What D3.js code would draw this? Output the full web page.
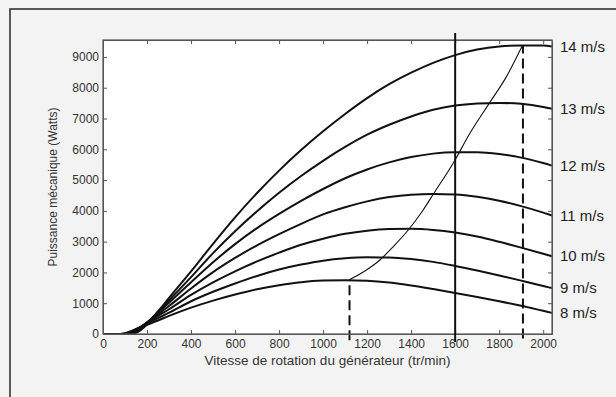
<!DOCTYPE html>
<html>
<head>
<meta charset="utf-8">
<script src="https://cdn.jsdelivr.net/npm/d3@7"></script>
<style>
  body { margin: 0; background: #f3f3f3; }
  svg { display: block; font-family: "Liberation Sans", Arial, sans-serif; }
</style>
</head>
<body>
<div id="chart"></div>
<script>
// generator speed (tr/min) where each power curve is sampled
const rpm = [0, 80, 100, 120, 150, 200, 250, 300, 400, 500, 600, 700, 800, 900, 1000,
  1100, 1200, 1300, 1400, 1500, 1600, 1700, 1800, 1900, 2000, 2040];

// mechanical power (W) for each wind speed
const p8  = [0, 4, 26, 72, 161, 298, 439, 588, 858, 1084, 1282, 1453, 1584, 1683, 1736,
  1750, 1732, 1673, 1579, 1462, 1335, 1203, 1065, 917, 752, 686];
const p9  = [0, 0, 15, 55, 152, 339, 516, 693, 1064, 1372, 1642, 1886, 2093, 2255, 2383,
  2458, 2490, 2487, 2437, 2343, 2212, 2063, 1901, 1734, 1562, 1490];
const p10 = [0, 0, 7, 41, 144, 369, 588, 804, 1271, 1677, 2037, 2358, 2642, 2898, 3093,
  3254, 3356, 3408, 3418, 3382, 3298, 3165, 2994, 2806, 2608, 2526];
const p11 = [0, 0, 0, 23, 114, 378, 641, 910, 1480, 2010, 2470, 2880, 3243, 3580, 3885,
  4117, 4308, 4449, 4526, 4548, 4531, 4458, 4331, 4153, 3944, 3851];
const p12 = [0, 0, 0, 12, 83, 372, 697, 1016, 1680, 2330, 2920, 3440, 3900, 4325, 4710,
  5060, 5345, 5575, 5747, 5859, 5900, 5900, 5844, 5729, 5552, 5469];
const p13 = [0, 0, 0, 0, 60, 345, 736, 1096, 1847, 2628, 3340, 3990, 4588, 5132, 5624,
  6075, 6473, 6796, 7066, 7284, 7419, 7486, 7507, 7476, 7374, 7314];
const p14 = [0, 0, 0, 0, 38, 310, 732, 1172, 2035, 2930, 3790, 4580, 5308, 5974, 6584,
  7147, 7663, 8113, 8488, 8807, 9060, 9238, 9341, 9374, 9370, 9342];

const windLabels = ['8 m/s', '9 m/s', '10 m/s', '11 m/s', '12 m/s', '13 m/s', '14 m/s'];
const windPowers = [p8, p9, p10, p11, p12, p13, p14];

// maximum power point track
const mpptRpm   = [1119, 1195, 1258, 1320, 1387, 1450, 1508, 1595, 1667, 1757, 1833, 1906];
const mpptPower = [1760, 2070, 2404, 2850, 3379, 3980, 4623, 5598, 6520, 7515, 8360, 9379];

// reference lines: [rpm, bottom W, top W]
const nominalLine = [1600, -260, 9780];
const dashedLines = [[1120, -200, 1760], [1908, -150, 9379]];

const xTicks = [0, 200, 400, 600, 800, 1000, 1200, 1400, 1600, 1800, 2000];
const yTicks = [0, 1000, 2000, 3000, 4000, 5000, 6000, 7000, 8000, 9000];

const W = 616, H = 397;
const plot = { left: 103, right: 552, top: 40, bottom: 334 };

const svg = d3.select('#chart').append('svg')
  .attr('width', W)
  .attr('height', H);

// outer frame
svg.append('rect')
  .attr('x', 10).attr('y', 9)
  .attr('width', W).attr('height', H)
  .attr('fill', '#f3f3f3')
  .attr('stroke', '#333')
  .attr('stroke-width', 1.6);

const x = d3.scaleLinear().domain([0, 2040]).range([plot.left, plot.right]);
const y = d3.scaleLinear().domain([0, 9550]).range([plot.bottom, plot.top]);

svg.append('rect')
  .attr('x', plot.left).attr('y', plot.top)
  .attr('width', plot.right - plot.left)
  .attr('height', plot.bottom - plot.top)
  .attr('fill', '#fff');

// power curves
const line = d3.line()
  .x((d, i) => x(rpm[i]))
  .y(d => y(d))
  .curve(d3.curveMonotoneX);

windPowers.forEach(p => {
  svg.append('path')
    .attr('d', line(p))
    .attr('fill', 'none')
    .attr('stroke', '#111')
    .attr('stroke-width', 2);
});

// mppt curve
const mpptLine = d3.line()
  .x((d, i) => x(mpptRpm[i]))
  .y(d => y(d))
  .curve(d3.curveMonotoneX);

svg.append('path')
  .attr('d', mpptLine(mpptPower))
  .attr('fill', 'none')
  .attr('stroke', '#111')
  .attr('stroke-width', 1.1);

dashedLines.forEach(l => {
  svg.append('line')
    .attr('x1', x(l[0])).attr('x2', x(l[0]))
    .attr('y1', y(l[1])).attr('y2', y(l[2]))
    .attr('stroke', '#111')
    .attr('stroke-width', 2)
    .attr('stroke-dasharray', '10,5');
});

// axes with inward ticks on every side
const axisColor = '#555';
const fmt = d3.format('d');
function styleAxis(g) {
  g.selectAll('path, line').attr('stroke', axisColor);
  g.selectAll('text').attr('fill', '#333').attr('font-size', 12);
}

svg.append('g')
  .attr('transform', `translate(0,${plot.bottom})`)
  .call(d3.axisBottom(x).tickValues(xTicks).tickFormat(fmt)
    .tickSize(-4).tickSizeOuter(0).tickPadding(5))
  .call(styleAxis);

svg.append('g')
  .attr('transform', `translate(0,${plot.top})`)
  .call(d3.axisTop(x).tickValues(xTicks).tickSize(-4).tickSizeOuter(0).tickFormat(''))
  .call(styleAxis);

svg.append('g')
  .attr('transform', `translate(${plot.left},0)`)
  .call(d3.axisLeft(y).tickValues(yTicks).tickFormat(fmt)
    .tickSize(-4).tickSizeOuter(0).tickPadding(4))
  .call(styleAxis);

svg.append('g')
  .attr('transform', `translate(${plot.right},0)`)
  .call(d3.axisRight(y).tickValues(yTicks).tickSize(-4).tickSizeOuter(0).tickFormat(''))
  .call(styleAxis);

svg.append('rect')
  .attr('x', plot.left).attr('y', plot.top)
  .attr('width', plot.right - plot.left)
  .attr('height', plot.bottom - plot.top)
  .attr('fill', 'none')
  .attr('stroke', axisColor)
  .attr('stroke-width', 1.2);

// nominal speed line, sticks out of the box
svg.append('line')
  .attr('x1', x(nominalLine[0])).attr('x2', x(nominalLine[0]))
  .attr('y1', y(nominalLine[1])).attr('y2', y(nominalLine[2]))
  .attr('stroke', '#111')
  .attr('stroke-width', 2);

// wind speed labels at the end of each curve
windPowers.forEach((p, i) => {
  svg.append('text')
    .attr('x', plot.right + 8)
    .attr('y', y(p[p.length - 1]))
    .attr('dy', '0.35em')
    .attr('font-size', 15)
    .attr('fill', '#222')
    .text(windLabels[i]);
});

// axis titles
svg.append('text')
  .attr('x', (plot.left + plot.right) / 2)
  .attr('y', 365)
  .attr('text-anchor', 'middle')
  .attr('font-size', 13.5)
  .attr('fill', '#333')
  .text('Vitesse de rotation du générateur (tr/min)');

svg.append('text')
  .attr('transform', 'rotate(-90)')
  .attr('x', -(plot.top + plot.bottom) / 2)
  .attr('y', 57)
  .attr('text-anchor', 'middle')
  .attr('font-size', 12)
  .attr('fill', '#333')
  .text('Puissance mécanique (Watts)');
</script>
</body>
</html>
